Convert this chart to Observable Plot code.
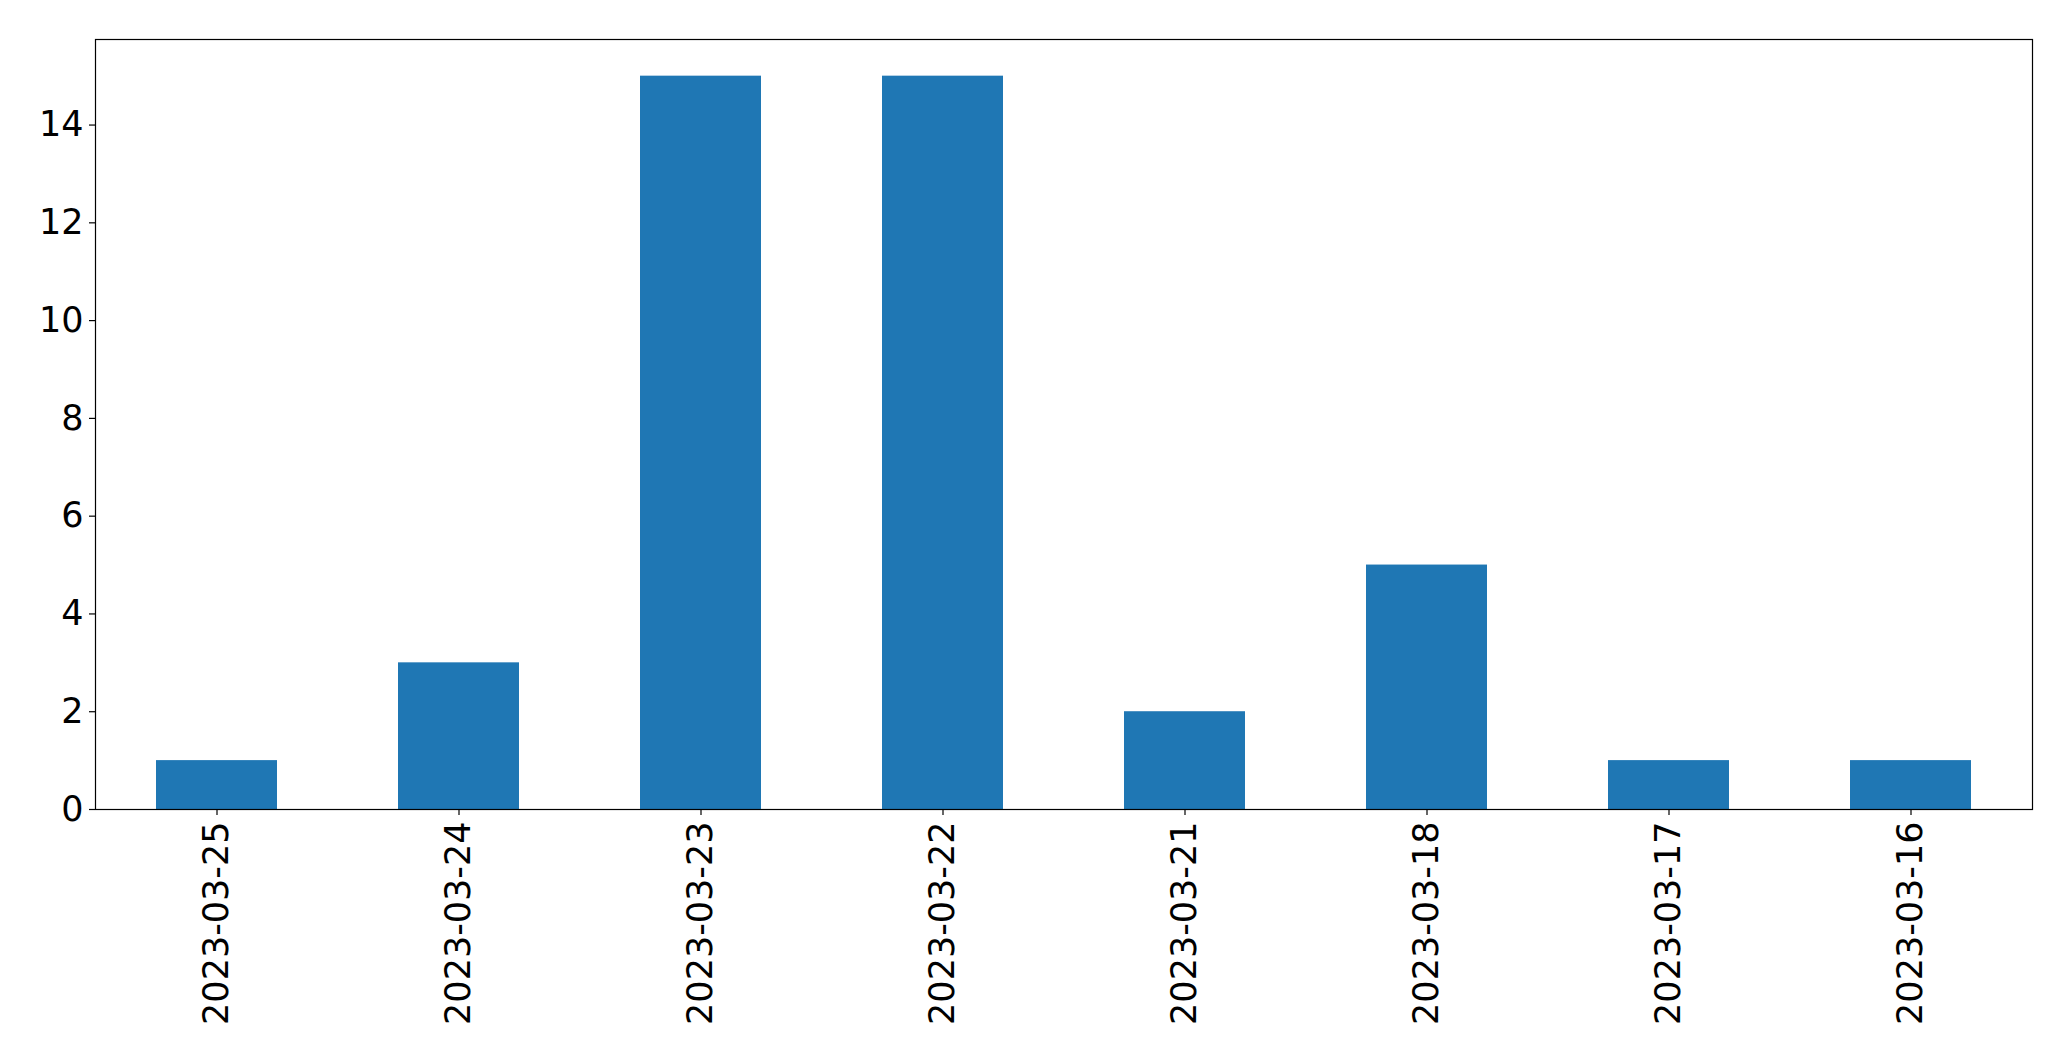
<!DOCTYPE html>
<html>
<head>
<meta charset="utf-8">
<script src="https://cdn.jsdelivr.net/npm/d3@7"></script>
<script src="https://cdn.jsdelivr.net/npm/@observablehq/plot@0.6"></script>
<style>
  html, body { margin: 0; padding: 0; background: #fff; }
</style>
</head>
<body>
<div id="chart"></div>
<script>
const dates = ["2023-03-25", "2023-03-24", "2023-03-23", "2023-03-22", "2023-03-21", "2023-03-18", "2023-03-17", "2023-03-16"];
const counts = [1, 3, 15, 15, 2, 5, 1, 1];
const yTicks = [0, 2, 4, 6, 8, 10, 12, 14];

const data = dates.map((d, i) => ({date: d, count: counts[i]}));

const chart = Plot.plot({
  width: 2071,
  height: 1061,
  marginLeft: 95,
  marginRight: 39,
  marginTop: 39,
  marginBottom: 252,
  style: {fontFamily: "DejaVu Sans", fontSize: "35px", color: "#000", background: "#fff"},
  x: {domain: dates, paddingInner: 0.5, paddingOuter: 0.25, label: null},
  y: {domain: [0, 15.75], label: null},
  marks: [
    Plot.barY(data, {x: "date", y: "count", fill: "#1f77b4"}),
    Plot.axisY({ticks: yTicks, tickSize: 6, tickPadding: 6, label: null, stroke: "#000", strokeWidth: 1.2}),
    Plot.axisX({tickSize: 6, tickPadding: 6, tickRotate: -90, label: null, stroke: "#000", strokeWidth: 1.2}),
    Plot.frame({stroke: "#000", strokeWidth: 1.2})
  ]
});
document.getElementById("chart").appendChild(chart);
</script>
</body>
</html>
